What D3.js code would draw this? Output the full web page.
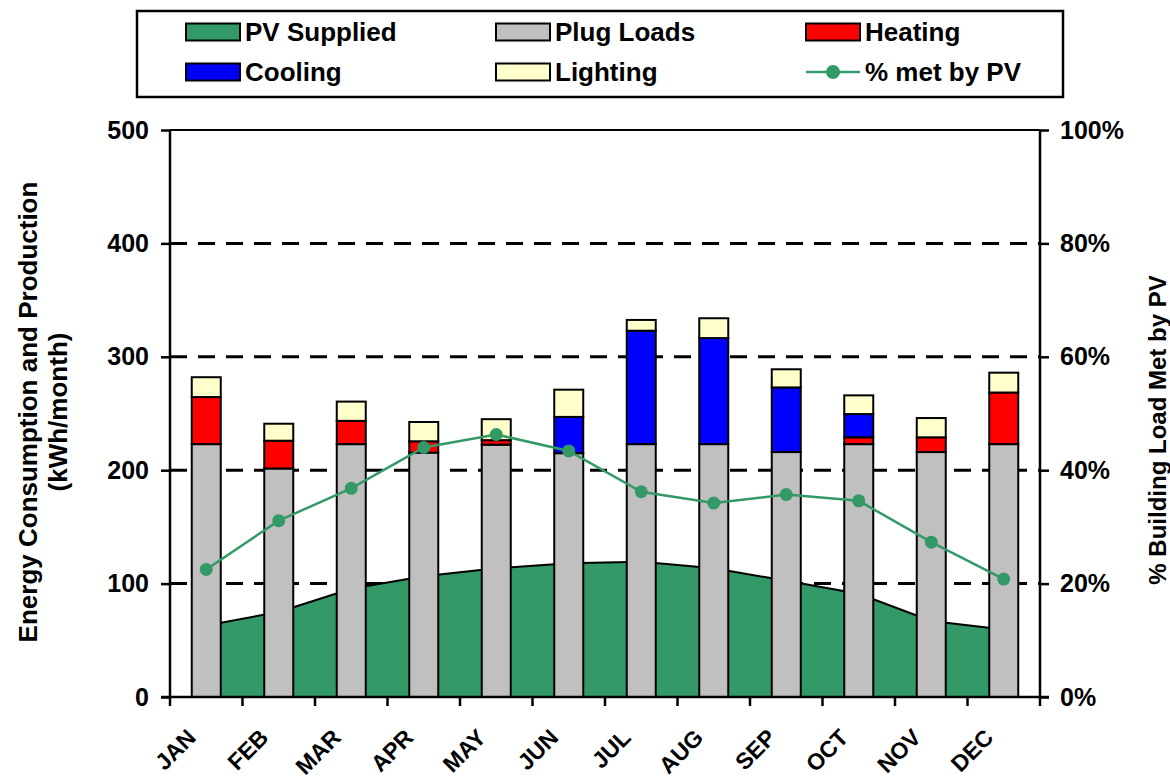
<!DOCTYPE html>
<html>
<head>
<meta charset="utf-8">
<script src="https://cdnjs.cloudflare.com/ajax/libs/d3/7.8.5/d3.min.js"></script>
<style>
  body { margin: 0; background: #fff; }
  text { font-family: "Liberation Sans", Arial, sans-serif; font-weight: bold; fill: #000; }
</style>
</head>
<body>
<div id="chart-container"></div>
<script>
// ----- DATA -----
let months = ["JAN", "FEB", "MAR", "APR", "MAY", "JUN", "JUL", "AUG", "SEP", "OCT", "NOV", "DEC"];
let plugLoads = [223, 201.5, 223, 215.5, 222.5, 215, 223, 223, 216, 223, 216, 223];
let heating = [41.5, 24.5, 20.5, 10, 4, 0, 0, 0, 0, 6, 13, 45.5];
let cooling = [0, 0, 0, 0, 0, 32, 100, 93.5, 57, 20.5, 0, 0];
let lighting = [17.5, 15, 17, 17, 18.5, 24, 9.5, 17.5, 16, 16.5, 17, 17.5];
let pvSupplied = [63, 75, 95.5, 106.5, 113.5, 118, 119.3, 113.6, 102.5, 91, 67, 59.5];
let pctMet = [22.5, 31.1, 36.8, 44.0, 46.3, 43.4, 36.2, 34.2, 35.7, 34.6, 27.3, 20.8];
let leftTicks = [0, 100, 200, 300, 400, 500];
let rightTicks = [0, 20, 40, 60, 80, 100];

let width = 1170,
    height = 780;

let plot = { left: 170, right: 1040, top: 130, bottom: 697 };

let svg = d3.select("#chart-container")
            .append("svg")
            .attr("width", width)
            .attr("height", height);

// ----- SCALES -----
let xScale = d3.scaleBand()
    .domain(months)
    .range([plot.left, plot.right]);

let yScale = d3.scaleLinear()
    .domain([0, 500])
    .range([plot.bottom, plot.top]);

let yPct = d3.scaleLinear()
    .domain([0, 100])
    .range([plot.bottom, plot.top]);

let cx = m => xScale(m) + xScale.bandwidth() / 2;
let barW = xScale.bandwidth() / 2.5;

// ----- GRIDLINES -----
svg.append("g")
    .selectAll("line")
    .data(leftTicks.filter(d => d > 0 && d < 500))
    .join("line")
    .attr("x1", plot.left)
    .attr("x2", plot.right)
    .attr("y1", d => yScale(d))
    .attr("y2", d => yScale(d))
    .attr("stroke", "black")
    .attr("stroke-width", 3)
    .attr("stroke-dasharray", "17,11");

// ----- PV AREA -----
let area = d3.area()
    .x((d, i) => cx(months[i]))
    .y0(yScale(0))
    .y1(d => yScale(d));

let topLine = d3.line()
    .x((d, i) => cx(months[i]))
    .y(d => yScale(d));

svg.append("path")
    .datum(pvSupplied)
    .attr("d", area)
    .attr("fill", "#339966");

svg.append("path")
    .datum(pvSupplied)
    .attr("d", topLine)
    .attr("fill", "none")
    .attr("stroke", "black")
    .attr("stroke-width", 2);

// ----- STACKED BARS -----
let rows = months.map((m, i) => ({
    month: m,
    plug: plugLoads[i],
    heat: heating[i],
    cool: cooling[i],
    light: lighting[i]
}));

let keys = ["plug", "heat", "cool", "light"];
let colors = { plug: "#C0C0C0", heat: "#FF0000", cool: "#0000FF", light: "#FFFFCC" };

let stack = d3.stack().keys(keys)(rows);

svg.append("g")
    .selectAll("g")
    .data(stack)
    .join("g")
    .attr("fill", d => colors[d.key])
    .selectAll("rect")
    .data(d => d.filter(s => s[1] - s[0] > 0))
    .join("rect")
    .attr("x", d => cx(d.data.month) - barW / 2)
    .attr("width", barW)
    .attr("y", d => yScale(d[1]))
    .attr("height", d => yScale(d[0]) - yScale(d[1]))
    .attr("stroke", "black")
    .attr("stroke-width", 2);

// ----- % MET LINE -----
let pctLine = d3.line()
    .x((d, i) => cx(months[i]))
    .y(d => yPct(d));

svg.append("path")
    .datum(pctMet)
    .attr("d", pctLine)
    .attr("fill", "none")
    .attr("stroke", "#339966")
    .attr("stroke-width", 2.5);

svg.append("g")
    .selectAll("circle")
    .data(pctMet)
    .join("circle")
    .attr("cx", (d, i) => cx(months[i]))
    .attr("cy", d => yPct(d))
    .attr("r", 6.5)
    .attr("fill", "#339966");

// ----- PLOT BORDER -----
svg.append("line")
    .attr("x1", plot.left).attr("x2", plot.right)
    .attr("y1", plot.top).attr("y2", plot.top)
    .attr("stroke", "black").attr("stroke-width", 2);

// ----- AXES -----
let leftAxis = svg.append("g")
    .attr("transform", `translate(${plot.left},0)`)
    .call(d3.axisLeft(yScale).tickValues(leftTicks).tickSize(9).tickPadding(12));

let rightAxis = svg.append("g")
    .attr("transform", `translate(${plot.right},0)`)
    .call(d3.axisRight(yPct).tickValues(rightTicks).tickSize(9).tickPadding(11)
        .tickFormat(d => d + "%"));

let bottomAxis = svg.append("g")
    .attr("transform", `translate(0,${plot.bottom})`)
    .call(d3.axisBottom(xScale).tickSize(0).tickFormat(""));

// ticks on category boundaries
svg.append("g")
    .selectAll("line")
    .data(months.concat(["END"]))
    .join("line")
    .attr("x1", (d, i) => i < 12 ? xScale(d) : plot.right)
    .attr("x2", (d, i) => i < 12 ? xScale(d) : plot.right)
    .attr("y1", plot.bottom)
    .attr("y2", plot.bottom + 9)
    .attr("stroke", "black")
    .attr("stroke-width", 2.5);

[leftAxis, rightAxis, bottomAxis].forEach(a => {
    a.select(".domain").attr("stroke-width", 2.5).attr("d", a === bottomAxis
        ? `M${plot.left - 9},0H${plot.right + 9}`
        : `M0,${plot.top}V${plot.bottom}`);
    a.selectAll(".tick line").attr("stroke-width", 2.5);
    a.selectAll(".tick text").style("font-size", "25px");
});

// month labels
svg.append("g")
    .selectAll("text")
    .data(months)
    .join("text")
    .attr("transform", d => `translate(${cx(d) - 9},739) rotate(-45)`)
    .style("text-anchor", "end")
    .style("font-size", "23px")
    .text(d => d);

// ----- AXIS LABELS -----
svg.append("text")
    .attr("transform", "translate(37,412) rotate(-90)")
    .style("text-anchor", "middle")
    .style("font-size", "26px")
    .text("Energy Consumption and Production");

svg.append("text")
    .attr("transform", "translate(67,412) rotate(-90)")
    .style("text-anchor", "middle")
    .style("font-size", "26px")
    .text("(kWh/month)");

svg.append("text")
    .attr("transform", "translate(1166,430) rotate(-90)")
    .style("text-anchor", "middle")
    .style("font-size", "24px")
    .text("% Building Load Met by PV");

// ----- LEGEND -----
let legend = svg.append("g");

legend.append("rect")
    .attr("x", 137)
    .attr("y", 11)
    .attr("width", 926)
    .attr("height", 86)
    .attr("fill", "white")
    .attr("stroke", "black")
    .attr("stroke-width", 2.5);

let legendItems = [
    { label: "PV Supplied", color: "#339966", col: 0, row: 0 },
    { label: "Plug Loads", color: "#C0C0C0", col: 1, row: 0 },
    { label: "Heating", color: "#FF0000", col: 2, row: 0 },
    { label: "Cooling", color: "#0000FF", col: 0, row: 1 },
    { label: "Lighting", color: "#FFFFCC", col: 1, row: 1 },
    { label: "% met by PV", color: "#339966", col: 2, row: 1, line: true }
];
let colX = [186, 496, 806];
let rowY = [32, 72];

legendItems.forEach(it => {
    let x = colX[it.col], y = rowY[it.row];
    if (it.line) {
        legend.append("line")
            .attr("x1", x).attr("x2", x + 54)
            .attr("y1", y).attr("y2", y)
            .attr("stroke", it.color).attr("stroke-width", 2.5);
        legend.append("circle")
            .attr("cx", x + 27).attr("cy", y).attr("r", 7)
            .attr("fill", it.color);
    } else {
        legend.append("rect")
            .attr("x", x).attr("y", y - 8.5)
            .attr("width", 54).attr("height", 17)
            .attr("fill", it.color)
            .attr("stroke", "black").attr("stroke-width", 2);
    }
    legend.append("text")
        .attr("x", x + 59)
        .attr("y", y + 9)
        .style("font-size", "26px")
        .text(it.label);
});
</script>
</body>
</html>
